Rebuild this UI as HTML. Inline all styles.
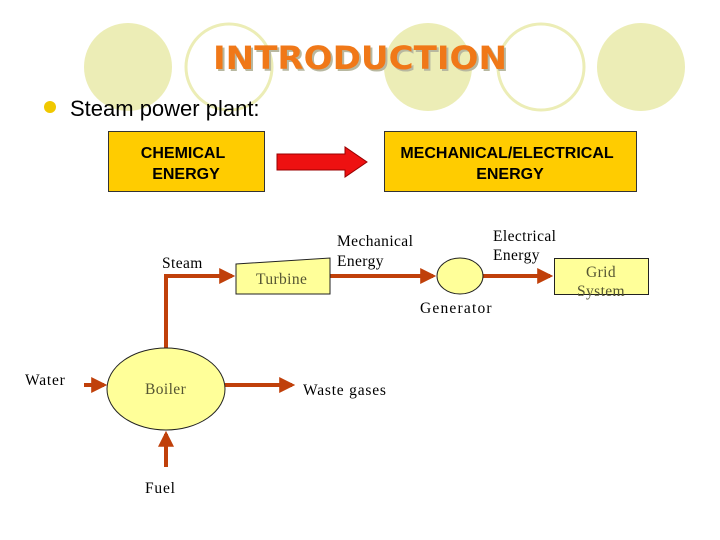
<!DOCTYPE html>
<html><head><meta charset="utf-8"><style>
body{margin:0;background:#fff;}
svg{display:block;}
</style></head><body>
<svg width="720" height="540" viewBox="0 0 720 540" xmlns="http://www.w3.org/2000/svg">
<defs>
<marker id="ah" markerWidth="4" markerHeight="4" refX="3.2" refY="2" orient="auto" markerUnits="strokeWidth"><path d="M0,0 L4,2 L0,4 z" fill="#c0400a"/></marker>
</defs>
<circle cx="128" cy="67" r="44" fill="#ecedb6"/>
<circle cx="229" cy="67" r="43" fill="none" stroke="#ecedb6" stroke-width="3"/>
<circle cx="428" cy="67" r="44" fill="#ecedb6"/>
<circle cx="541" cy="67" r="43" fill="none" stroke="#ecedb6" stroke-width="3"/>
<circle cx="641" cy="67" r="44" fill="#ecedb6"/>
<text x="215" y="71" textLength="294" lengthAdjust="spacingAndGlyphs" font-family="DejaVu Sans, sans-serif" font-weight="bold" font-size="32" fill="#b8b8a0">INTRODUCTION</text>
<text x="213" y="69" textLength="294" lengthAdjust="spacingAndGlyphs" font-family="DejaVu Sans, sans-serif" font-weight="bold" font-size="32" fill="#f07818">INTRODUCTION</text>
<circle cx="50" cy="107" r="6" fill="#f0c800"/>
<text x="70" y="116" font-family="Liberation Sans, sans-serif" font-size="22" fill="#000">Steam power plant:</text>
<rect x="108.5" y="131.5" width="156" height="60" fill="#ffcc00" stroke="#333" stroke-width="1"/>
<text x="183" y="158" text-anchor="middle" font-family="Liberation Sans, sans-serif" font-weight="bold" font-size="16">CHEMICAL</text>
<text x="186" y="179" text-anchor="middle" font-family="Liberation Sans, sans-serif" font-weight="bold" font-size="16">ENERGY</text>
<rect x="384.5" y="131.5" width="252" height="60" fill="#ffcc00" stroke="#333" stroke-width="1"/>
<text x="507" y="158" text-anchor="middle" font-family="Liberation Sans, sans-serif" font-weight="bold" font-size="16">MECHANICAL/ELECTRICAL</text>
<text x="510" y="179" text-anchor="middle" font-family="Liberation Sans, sans-serif" font-weight="bold" font-size="16">ENERGY</text>
<path d="M277,154 L345,154 L345,147 L367,162 L345,177 L345,170 L277,170 z" fill="#ee1111" stroke="#990000" stroke-width="1"/>
<g stroke="#c0400a" stroke-width="4" fill="none">
<path d="M166,349 L166,276 L232,276" marker-end="url(#ah)"/>
<line x1="330" y1="276" x2="433" y2="276" marker-end="url(#ah)"/>
<line x1="483" y1="276" x2="550" y2="276" marker-end="url(#ah)"/>
<line x1="84" y1="385" x2="104" y2="385" marker-end="url(#ah)"/>
<line x1="225" y1="385" x2="292" y2="385" marker-end="url(#ah)"/>
<line x1="166" y1="467" x2="166" y2="434" marker-end="url(#ah)"/>
</g>
<path d="M236,264 L330,258 L330,294 L236,294 z" fill="#ffff99" stroke="#222" stroke-width="1"/>
<ellipse cx="460" cy="276" rx="23" ry="18" fill="#ffff99" stroke="#222" stroke-width="1"/>
<rect x="554.5" y="258.5" width="94" height="36" fill="#ffff99" stroke="#222" stroke-width="1"/>
<ellipse cx="166" cy="389" rx="59" ry="41" fill="#ffff99" stroke="#222" stroke-width="1"/>
<g font-family="Liberation Serif, serif" font-size="15.5" fill="#000" letter-spacing="0.4">
<text x="162" y="268">Steam</text>
<text x="256" y="284" fill="#555533">Turbine</text>
<text x="337" y="246">Mechanical</text>
<text x="337" y="266">Energy</text>
<text x="493" y="241">Electrical</text>
<text x="493" y="260">Energy</text>
<text x="601" y="277" text-anchor="middle" fill="#555533">Grid</text>
<text x="601" y="296" text-anchor="middle" fill="#555533">System</text>
<text x="420" y="313" letter-spacing="1.2">Generator</text>
<text x="25" y="385" letter-spacing="0.8">Water</text>
<text x="145" y="394" fill="#555533">Boiler</text>
<text x="303" y="395" letter-spacing="0.8">Waste gases</text>
<text x="145" y="493" letter-spacing="0.8">Fuel</text>
</g>
</svg>
</body></html>
